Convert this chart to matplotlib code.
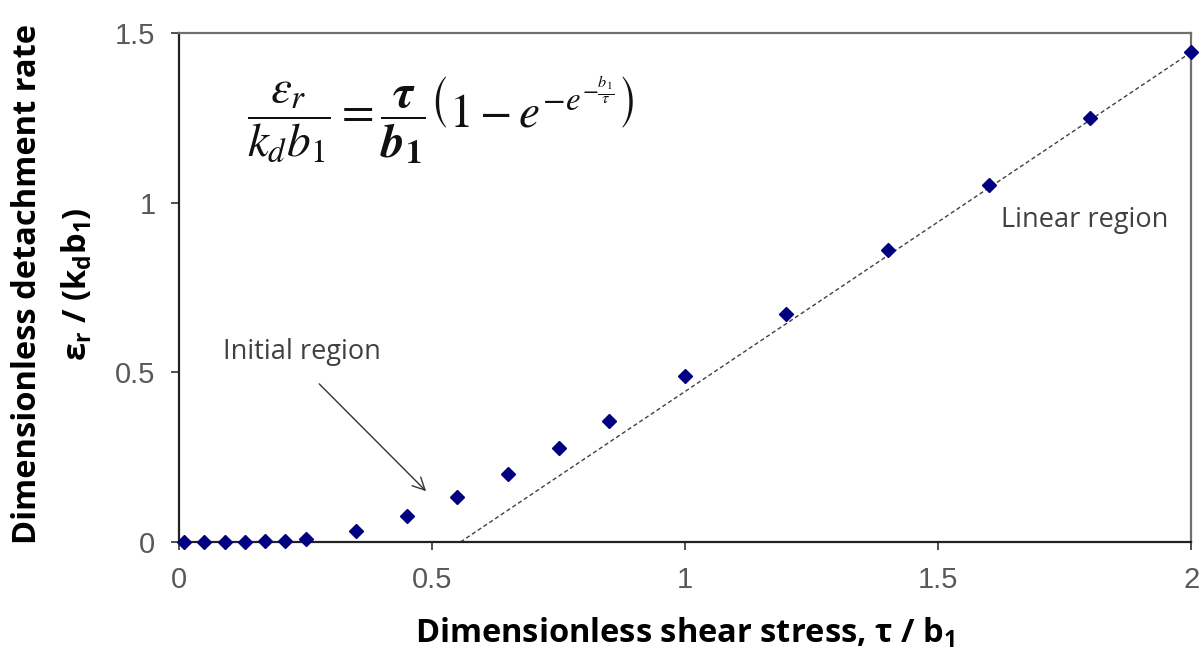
import matplotlib
matplotlib.use("Agg")
import matplotlib.pyplot as plt

# Data
tau = [0.01, 0.05, 0.09, 0.13, 0.17, 0.21, 0.25, 0.35, 0.45, 0.55, 0.65,
       0.75, 0.85, 1.0, 1.2, 1.4, 1.6, 1.8, 2.0]
eps = [0.0, 0.0, 0.0, 0.0, 0.002, 0.004, 0.009, 0.032, 0.077, 0.133, 0.200,
       0.277, 0.357, 0.489, 0.672, 0.861, 1.052, 1.250, 1.444]
lin_x = [0.556, 2.0]
lin_y = [0.0, 1.444]
xticks = [0, 0.5, 1, 1.5, 2]
xtick_labels = ["0", "0.5", "1", "1.5", "2"]
yticks = [0, 0.5, 1, 1.5]
ytick_labels = ["0", "0.5", "1", "1.5"]

plt.rcParams['mathtext.fontset'] = 'custom'
plt.rcParams['mathtext.rm'] = 'Open Sans'
plt.rcParams['mathtext.it'] = 'Open Sans:italic'
plt.rcParams['mathtext.bf'] = 'Open Sans:bold'

fig = plt.figure(figsize=(12.02, 6.53), dpi=100)
ax = fig.add_axes([0.149, 0.170, 0.842, 0.779])

ax.plot(lin_x, lin_y, linestyle=(0, (3, 2)), color='#404040', linewidth=1.0, zorder=2)
ax.plot(tau, eps, linestyle='none', marker='D', markersize=7.5, color='#000080',
        markeredgecolor='#000080', zorder=3, clip_on=False)

ax.set_xlim(0, 2)
ax.set_ylim(0, 1.5)
ax.set_xticks(xticks)
ax.set_xticklabels(xtick_labels)
ax.set_yticks(yticks)
ax.set_yticklabels(ytick_labels)

for lab in ax.get_xticklabels() + ax.get_yticklabels():
    lab.set_fontfamily('Liberation Sans')
    lab.set_fontsize(21)
    lab.set_color('#595959')
ax.tick_params(direction='out', length=6, width=1.2, color='#333333', pad=11)

for side in ['left', 'bottom']:
    ax.spines[side].set_color('#222222')
    ax.spines[side].set_linewidth(1.6)
for side in ['top', 'right']:
    ax.spines[side].set_color('#707070')
    ax.spines[side].set_linewidth(1.6)

label_kw = dict(fontfamily='Open Sans', fontweight='bold', fontsize=23.5)

ax.set_xlabel('Dimensionless shear stress, τ / b$_\\mathbf{1}$', labelpad=16, **label_kw)

fig.text(0.023, 0.565, 'Dimensionless detachment rate', rotation=90,
         ha='center', va='center', **label_kw)
fig.text(0.064, 0.565, 'ε$_\\mathbf{r}$ / (k$_\\mathbf{d}$b$_\\mathbf{1}$)', rotation=90,
         ha='center', va='center', **label_kw)

ax.text(0.518, 1.245,
        r'$\dfrac{\varepsilon_r}{k_d b_1} = \dfrac{\boldsymbol{\tau}}{\boldsymbol{b}_\mathbf{1}}\left(1 - e^{-e^{-\frac{b_1}{\tau}}}\right)$',
        fontsize=34, ha='center', va='center', color='#111111', math_fontfamily='stix')

ax.annotate('', xy=(0.492, 0.144), xytext=(0.273, 0.472),
            arrowprops=dict(arrowstyle='->', color='#333333', lw=1.0, mutation_scale=22))
ax.text(0.243, 0.56, 'Initial region', fontfamily='Open Sans', fontsize=19.5,
        color='#404040', ha='center', va='center')
ax.text(1.789, 0.949, 'Linear region', fontfamily='Open Sans', fontsize=19.5,
        color='#404040', ha='center', va='center')

fig.savefig('out.png', dpi=100)
